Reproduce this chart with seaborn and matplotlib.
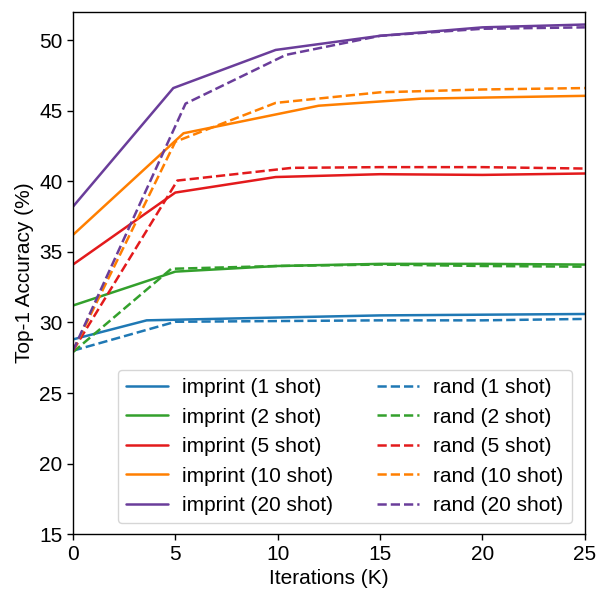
import pandas as pd
import matplotlib
matplotlib.use("Agg")
import matplotlib.pyplot as plt
import seaborn as sns

# values (iterations in K, top-1 accuracy in %)
shots = [1, 2, 5, 10, 20]
colors = ["#1f78b4", "#33a02c", "#e31a1c", "#ff7f00", "#6a3d9a"]

imprint_x = [
    [0, 3.6, 10, 15, 20, 25],
    [0, 5.0, 10, 15, 20, 25],
    [0, 5.0, 9.9, 15, 20, 25],
    [0, 5.4, 12, 17, 25],
    [0, 4.9, 9.9, 15, 20, 25],
]
imprint_y = [
    [28.8, 30.15, 30.35, 30.5, 30.55, 30.6],
    [31.2, 33.6, 34.0, 34.15, 34.15, 34.1],
    [34.1, 39.2, 40.3, 40.5, 40.45, 40.55],
    [36.2, 43.4, 45.35, 45.85, 46.05],
    [38.2, 46.6, 49.3, 50.3, 50.9, 51.1],
]
rand_x = [
    [0, 5.0, 10, 15, 20, 25],
    [0, 4.8, 10, 15, 20, 25],
    [0, 5.1, 10.7, 15, 20, 25],
    [0, 5.0, 9.9, 15, 20, 25],
    [0, 5.5, 10.4, 15, 20, 25],
]
rand_y = [
    [28.0, 30.05, 30.1, 30.15, 30.15, 30.25],
    [27.9, 33.8, 34.0, 34.1, 34.0, 33.95],
    [28.0, 40.05, 40.95, 41.0, 41.0, 40.9],
    [28.0, 42.8, 45.55, 46.3, 46.5, 46.6],
    [28.0, 45.5, 48.95, 50.3, 50.8, 50.9],
]

sns.set_style("ticks")
plt.rcParams["font.family"] = ["Liberation Sans", "DejaVu Sans"]
plt.rcParams["font.size"] = 15
plt.rcParams["text.color"] = "black"
plt.rcParams["axes.labelcolor"] = "black"
plt.rcParams["xtick.color"] = "black"
plt.rcParams["ytick.color"] = "black"

fig, ax = plt.subplots(figsize=(5.98, 5.91), dpi=100)

for kind, xs, ys, ls in [("imprint", imprint_x, imprint_y, "-"),
                         ("rand", rand_x, rand_y, "--")]:
    for s, c, x, y in zip(shots, colors, xs, ys):
        df = pd.DataFrame({"it": x, "acc": y})
        sns.lineplot(data=df, x="it", y="acc", ax=ax, color=c,
                     linestyle=ls, linewidth=1.8, label=f"{kind} ({s} shot)")

h, l = ax.get_legend_handles_labels()
ax.legend(h, l, ncol=2, loc="lower right", fontsize=15,
          columnspacing=2.1, handlelength=2.0, handletextpad=0.7,
          borderpad=0.4, labelspacing=0.5, borderaxespad=0,
          bbox_to_anchor=(0.975, 0.021), edgecolor="#cccccc")

ax.set_xlim(0, 25)
ax.set_ylim(15, 52)
ax.set_xticks([0, 5, 10, 15, 20, 25])
ax.set_yticks([15, 20, 25, 30, 35, 40, 45, 50])
ax.tick_params(labelsize=15, width=1.0, length=4)
ax.set_xlabel("Iterations (K)", fontsize=15)
ax.set_ylabel("Top-1 Accuracy (%)", fontsize=15)
for sp in ax.spines.values():
    sp.set_visible(True)
    sp.set_color("black")
    sp.set_linewidth(1.0)

fig.subplots_adjust(left=0.122, right=0.978, top=0.98, bottom=0.096)
fig.savefig("out.png", dpi=100)
